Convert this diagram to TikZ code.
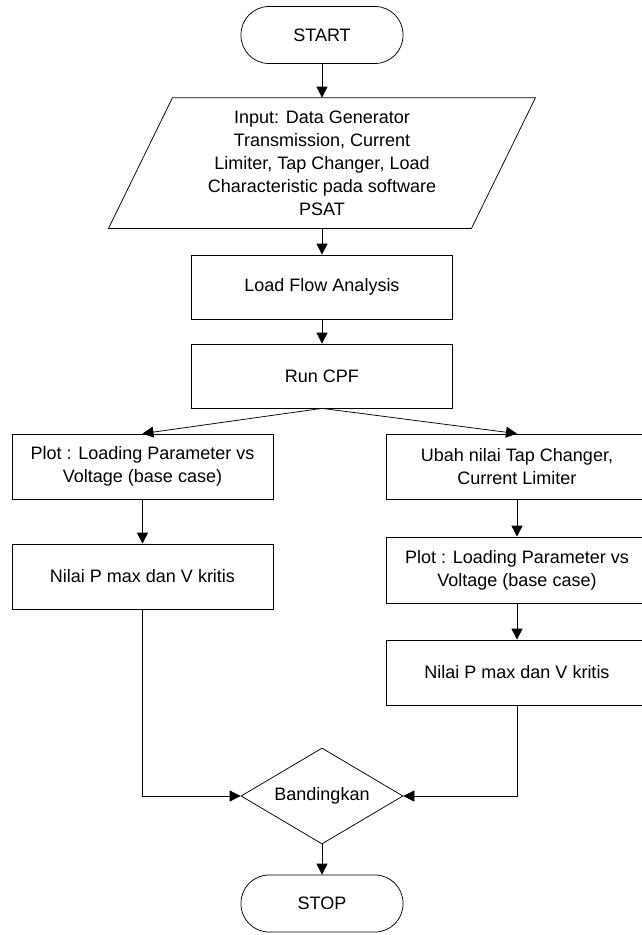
\documentclass[tikz,border=0pt]{standalone}
\usepackage{fontspec}
\setmainfont{Liberation Sans}
\usetikzlibrary{arrows.meta,shapes.geometric}
\begin{document}
\begin{tikzpicture}[x=1pt,y=-1pt,line width=0.75pt,
  every node/.style={font=\fontsize{18}{23}\selectfont, align=center, inner sep=0pt},
  box/.style={draw, rectangle, minimum width=261pt, minimum height=65pt},
  term/.style={draw, rectangle, rounded corners=28pt, minimum width=162pt, minimum height=57pt},
  decide/.style={draw, diamond, aspect=1.69, minimum width=162pt, minimum height=96pt},
  flow/.style={draw, -{Triangle[length=11pt,width=11pt]}}]
  \useasboundingbox (0,0) rectangle (642,935);
  \clip (0,0) rectangle (642,935);

  % main column
  \node[term] (start) at (322,35) {START};
  \node[minimum width=300pt, minimum height=130pt] (input) at (322,163)
    {Input: Data Generator\\Transmission, Current\\Limiter, Tap Changer, Load\\Characteristic pada software\\PSAT};
  \draw ([xshift=-149.5pt]input.north) -- ([xshift=213.5pt]input.north)
     -- ([xshift=149.5pt]input.south) -- ([xshift=-213.5pt]input.south) -- cycle;
  \node[box, minimum height=64pt] (load) at (322,287) {Load Flow Analysis};
  \node[box, minimum height=64pt] (cpf) at (322,376) {Run CPF};

  % left branch
  \node[box] (plotL) at (142.5,466.5) {Plot : Loading Parameter vs\\Voltage (base case)};
  \node[box] (nilaiL) at (142.5,576.5) {Nilai P max dan V kritis};

  % right branch
  \node[box] (ubah) at (517,466.5) {Ubah nilai Tap Changer,\\Current Limiter};
  \node[box, minimum height=66pt] (plotR) at (517,570) {Plot : Loading Parameter vs\\Voltage (base case)};
  \node[box] (nilaiR) at (517,672.5) {Nilai P max dan V kritis};

  % comparison and end
  \node[decide] (cmp) at (322,796) {Bandingkan};
  \node[term] (stop) at (322,903.5) {STOP};

  % connectors
  \draw[flow] (start.south) -- (input.north);
  \draw[flow] (input.south) -- (load.north);
  \draw[flow] (load.south) -- (cpf.north);
  \draw[flow] (cpf.south) -- (plotL.north);
  \draw[flow] (cpf.south) -- (ubah.north);
  \draw[flow] (plotL.south) -- (nilaiL.north);
  \draw[flow] (ubah.south) -- (plotR.north);
  \draw[flow] (plotR.south) -- (nilaiR.north);
  \draw[flow] (nilaiL.south) |- (cmp.west);
  \draw[flow] (nilaiR.south) |- (cmp.east);
  \draw[flow] (cmp.south) -- (stop.north);
\end{tikzpicture}
\end{document}
